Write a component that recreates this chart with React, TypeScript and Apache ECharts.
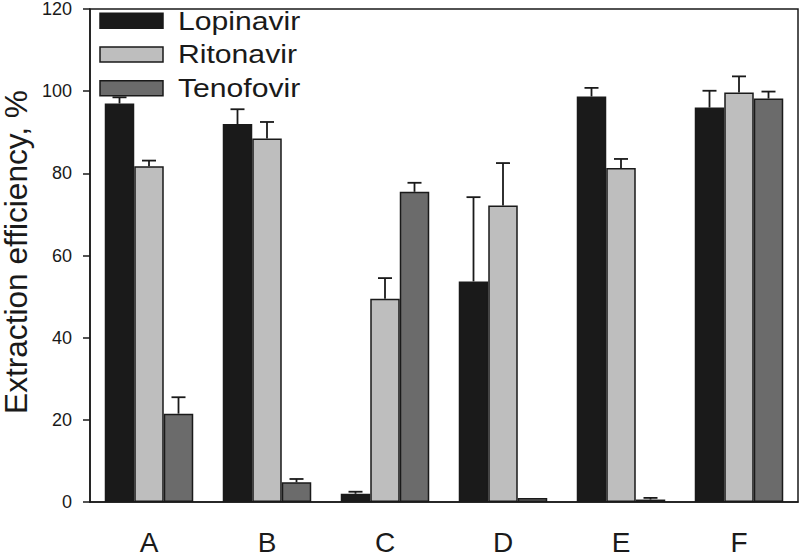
import React, { useEffect, useRef } from "react";
import * as echarts from "echarts";

const categories = ["A", "B", "C", "D", "E", "F"];
const seriesNames = ["Lopinavir", "Ritonavir", "Tenofovir"];
const lopinavir = [97.0, 92.0, 2.0, 53.7, 98.7, 96.0];
const lopinavirErr = [1.5, 3.6, 0.5, 20.5, 2.1, 4.1];
const ritonavir = [81.7, 88.5, 49.5, 72.2, 81.3, 99.7];
const ritonavirErr = [1.4, 4.0, 5.0, 10.3, 2.2, 3.9];
const tenofovir = [21.5, 4.8, 75.5, 1.0, 0.6, 98.2];
const tenofovirErr = [4.0, 0.8, 2.2, 0, 0.4, 1.7];
const yTicks = { min: 0, max: 120, interval: 20 };
const colors = ["#1a1a1a", "#bebebe", "#6b6b6b"];

const FONT = "'Liberation Sans', Arial, Helvetica, sans-serif";
const INK = "#1a1a1a";

export default function App() {
  const ref = useRef<HTMLDivElement>(null);
  useEffect(() => {
    if (!ref.current) return;
    const chart = echarts.init(ref.current, undefined, { renderer: "svg" });
    const values = [lopinavir, ritonavir, tenofovir];
    const errs = [lopinavirErr, ritonavirErr, tenofovirErr];
    const errData: number[][] = [];
    values.forEach((vals, s) => {
      vals.forEach((v, i) => errData.push([i, v, errs[s][i], s]));
    });
    const legendItems: any[] = [];
    seriesNames.forEach((name, s) => {
      const cy = 20.8 + s * 33.7;
      legendItems.push({
        type: "rect",
        shape: { x: 100, y: cy - 7.5, width: 63, height: 15 },
        style: { fill: colors[s], stroke: INK, lineWidth: 1.5 },
      });
      legendItems.push({
        type: "text",
        x: 178,
        y: cy,
        scaleX: 1.16,
        style: {
          text: name,
          fontFamily: FONT,
          fontSize: 26,
          fill: INK,
          textAlign: "left",
          textVerticalAlign: "middle",
        },
      });
    });
    chart.setOption({
      animation: false,
      backgroundColor: "#ffffff",
      grid: {
        left: 90,
        right: 2,
        top: 8,
        bottom: 52,
        show: true,
        borderColor: INK,
        borderWidth: 1.5,
        backgroundColor: "transparent",
      },
      graphic: [
        ...legendItems,
        {
          type: "text",
          x: 16.2,
          y: 252,
          rotation: Math.PI / 2,
          scaleX: 1.02,
          style: {
            text: "Extraction efficiency, %",
            fontFamily: FONT,
            fontSize: 31,
            fill: INK,
            textAlign: "center",
            textVerticalAlign: "middle",
          },
        },
      ],
      xAxis: {
        type: "category",
        data: categories,
        axisLine: { lineStyle: { color: INK, width: 1.5 } },
        axisTick: { alignWithLabel: true, length: 7, lineStyle: { color: INK, width: 1.5 } },
        axisLabel: { fontFamily: FONT, fontSize: 28, color: INK, margin: 26 },
      },
      yAxis: {
        type: "value",
        min: yTicks.min,
        max: yTicks.max,
        interval: yTicks.interval,
        splitLine: { show: false },
        axisLine: { show: true, lineStyle: { color: INK, width: 1.5 } },
        axisTick: { show: true, length: 7, lineStyle: { color: INK, width: 1.5 } },
        axisLabel: { fontFamily: FONT, fontSize: 18, color: INK, margin: 18 },
      },
      series: [
        ...values.map((vals, s) => ({
          type: "bar",
          name: seriesNames[s],
          data: vals,
          barGap: "0%",
          barCategoryGap: "25%",
          itemStyle: { color: colors[s], borderColor: INK, borderWidth: 1.5 },
        })),
        {
          type: "custom",
          name: "errors",
          data: errData,
          encode: { x: 0, y: 1 },
          z: 5,
          renderItem: (params: any, api: any) => {
            const cat = api.value(0);
            const val = api.value(1);
            const err = api.value(2);
            const s = api.value(3);
            if (!err) return null;
            const base = api.coord([cat, val]);
            const top = api.coord([cat, val + err]);
            const band = api.size([1, 0])[0];
            const bw = (band * 0.75) / 3;
            const x = base[0] + (s - 1) * bw;
            const style = { stroke: INK, lineWidth: 1.8 };
            return {
              type: "group",
              children: [
                { type: "line", shape: { x1: x, y1: base[1], x2: x, y2: top[1] }, style },
                { type: "line", shape: { x1: x - 7, y1: top[1], x2: x + 7, y2: top[1] }, style },
              ],
            };
          },
        },
      ],
    });
    return () => chart.dispose();
  }, []);
  return <div ref={ref} style={{ width: 800, height: 556, position: "absolute", left: 0, top: 0 }} />;
}
